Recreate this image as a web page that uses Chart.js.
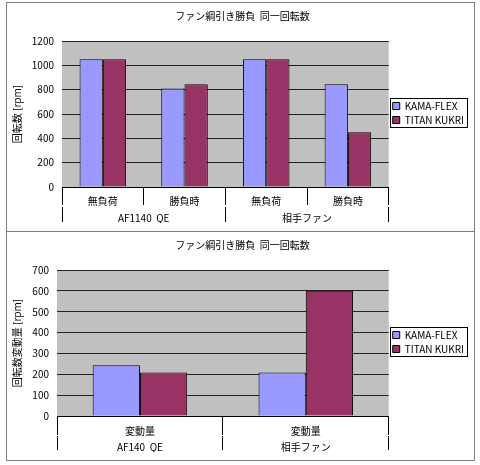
<!DOCTYPE html>
<html>
<head>
<meta charset="utf-8">
<script src="https://cdn.jsdelivr.net/npm/chart.js@4.4.1/dist/chart.umd.min.js"></script>
<style>
body { margin: 0; background: #fff; }
.box { position: absolute; left: 6px; width: 467px; height: 228px; border: 1px solid #808080; }
#box-top { top: 2px; }
#box-bottom { top: 231px; }
</style>
</head>
<body>
<div class="box" id="box-top"><canvas id="chart-top"></canvas></div>
<div class="box" id="box-bottom"><canvas id="chart-bottom"></canvas></div>
<script>
const chartTitle = 'ファン綱引き勝負  同一回転数';
const seriesNames = ['KAMA-FLEX', 'TITAN KUKRI'];

// top chart
const topCategories = ['無負荷', '勝負時', '無負荷', '勝負時'];
const topGroups = ['AF1140  QE', '相手ファン'];
const topKama = [1050, 810, 1050, 845];
const topTitan = [1050, 845, 1050, 450];

// bottom chart
const bottomCategories = ['変動量', '変動量'];
const bottomGroups = ['AF140  QE', '相手ファン'];
const bottomKama = [243, 209];
const bottomTitan = [209, 600];

Chart.defaults.font.family = '"Noto Sans CJK JP", "Noto Sans", sans-serif';
Chart.defaults.font.size = 10;
Chart.defaults.color = '#000';

const plotBg = {
    id: 'plotBg',
    beforeDraw(chart) {
        const { ctx, chartArea: a } = chart;
        ctx.save();
        ctx.fillStyle = '#c0c0c0';
        ctx.fillRect(a.left, a.top, a.width, a.height);
        ctx.restore();
    }
};

const legendBox = {
    id: 'legendBox',
    afterDraw(chart) {
        const boxes = chart.legend.legendHitBoxes;
        if (!boxes || !boxes.length) return;
        const left = Math.min(...boxes.map(b => b.left)) - 3;
        const top = Math.min(...boxes.map(b => b.top)) - 3;
        const right = Math.max(...boxes.map(b => b.left + b.width)) + 3;
        const bottom = Math.max(...boxes.map(b => b.top + b.height)) + 2;
        const ctx = chart.ctx;
        ctx.save();
        ctx.strokeStyle = '#000';
        ctx.lineWidth = 1;
        ctx.strokeRect(Math.round(left) + 0.5, Math.round(top) + 0.5, Math.round(right - left), Math.round(bottom - top));
        ctx.restore();
    }
};

// ax: layout numbers for the two-row category axis
function makeChart(id, categories, groups, kama, titan, yMax, yStep, yTitle, yWidth, ax) {
    const ctx = document.getElementById(id).getContext('2d');
    return new Chart(ctx, {
        type: 'bar',
        data: {
            labels: categories,
            datasets: [{
                label: seriesNames[0],
                data: kama,
                backgroundColor: '#9999ff',
                borderColor: '#000',
                borderWidth: 1,
                xAxisID: 'x',
            }, {
                label: seriesNames[1],
                data: titan,
                backgroundColor: '#993366',
                borderColor: '#000',
                borderWidth: 1,
                xAxisID: 'x',
            }]
        },
        options: {
            responsive: true,
            maintainAspectRatio: false,
            animation: false,
            datasets: { bar: { categoryPercentage: 0.57, barPercentage: 1 } },
            layout: { padding: { top: 0, right: 0, bottom: 8, left: 4 } },
            plugins: {
                title: { display: true, text: chartTitle, font: { size: 10, weight: 'normal' }, padding: { top: 7, bottom: 19 } },
                legend: {
                    position: 'right',
                    labels: { boxWidth: 7, boxHeight: 7, padding: 4, font: { size: 10 } }
                },
                tooltip: { enabled: false }
            },
            scales: {
                x: {
                    position: 'bottom',
                    grid: { offset: true, drawOnChartArea: false, tickLength: ax.t1, color: '#000' },
                    border: { color: '#000' },
                    ticks: { padding: ax.p1, font: { size: 10 } },
                    afterFit: s => { s.height = 20; }
                },
                x2: {
                    type: 'category',
                    labels: groups,
                    position: 'bottom',
                    offset: true,
                    grid: { offset: true, drawOnChartArea: false, tickLength: ax.t2, color: '#000' },
                    border: { display: false },
                    ticks: { padding: ax.p2, font: { size: 10 } },
                    afterFit: s => { s.height = 16; }
                },
                y: {
                    min: 0,
                    max: yMax,
                    ticks: { stepSize: yStep, padding: 8, font: { size: 10 }, callback: v => v },
                    grid: { color: '#222', drawTicks: false },
                    border: { display: false },
                    title: { display: true, text: yTitle, font: { size: 10 }, padding: { top: 0, bottom: 4 } },
                    afterFit: s => { s.width = yWidth; }
                }
            }
        },
        plugins: [plotBg, legendBox]
    });
}

makeChart('chart-top', topCategories, topGroups, topKama, topTitan, 1200, 200, '回転数 [rpm]', 51,
    { t1: 18, p1: -10, t2: 15, p2: -10 });
makeChart('chart-bottom', bottomCategories, bottomGroups, bottomKama, bottomTitan, 700, 100, '回転数変動量 [rpm]', 46,
    { t1: 19, p1: -10, t2: 14, p2: -9 });
</script>
</body>
</html>
